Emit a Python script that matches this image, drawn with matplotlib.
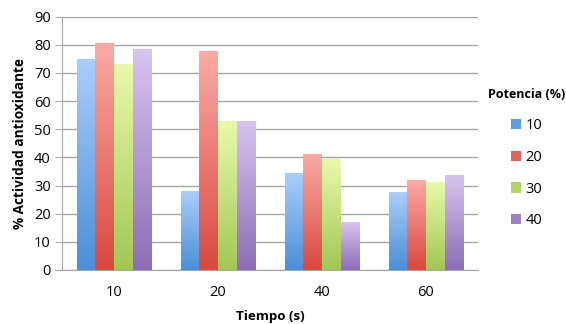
import numpy as np
import matplotlib.pyplot as plt
from matplotlib.colors import LinearSegmentedColormap
from matplotlib.patches import Patch

plt.rcParams['font.family'] = ['Open Sans', 'DejaVu Sans']

# Data
tiempos = ['10', '20', '40', '60']
potencias = ['10', '20', '30', '40']
pot_10 = [74.8, 27.8, 34.3, 27.5]
pot_20 = [80.3, 77.7, 40.9, 31.9]
pot_30 = [73.1, 52.7, 39.3, 31.0]
pot_40 = [78.2, 52.7, 16.8, 33.7]
series = [pot_10, pot_20, pot_30, pot_40]

# gradient colours (top, bottom) for each series
tops = ['#AACDFB', '#FBAAA5', '#E8FAAA', '#D7C4EF']
bottoms = ['#4A8FD6', '#D9493F', '#A3C653', '#8C6DB6']
legend_cols = ['#5C9DE0', '#E0625A', '#B2D465', '#9C80C4']

fig = plt.figure(figsize=(5.66, 3.24), dpi=100)
ax = fig.add_axes([0.1095, 0.1667, 0.735, 0.782])

x = np.arange(len(tiempos))
w = 0.18
grad = np.linspace(0, 1, 256).reshape(-1, 1)

for i, vals in enumerate(series):
    cmap = LinearSegmentedColormap.from_list('g%d' % i, [bottoms[i], tops[i]])
    for xc, v in zip(x, vals):
        x0 = xc + (i - 1.5) * w - w / 2
        ax.imshow(grad, extent=[x0, x0 + w, 0, v], origin='lower',
                  aspect='auto', cmap=cmap, zorder=3, interpolation='bilinear')

ax.set_xlim(-0.5, 3.5)
ax.set_ylim(0, 90)
ax.set_yticks(range(0, 91, 10))
ax.set_xticks(x)
ax.set_xticklabels(tiempos)
ax.grid(axis='y', color='#A6A6A6', linewidth=1, zorder=0)
ax.set_axisbelow(True)

for s in ['top', 'right']:
    ax.spines[s].set_visible(False)
ax.spines['left'].set_color('#A6A6A6')
ax.spines['bottom'].set_color('#A6A6A6')
ax.tick_params(axis='y', length=5, color='#A6A6A6', labelsize=10.5, pad=3)
ax.tick_params(axis='x', length=0, labelsize=10.5, pad=11)

ax.set_ylabel('% Actividad antioxidante', fontsize=9.8, fontweight='bold', labelpad=5)
ax.set_xlabel('Tiempo (s)', fontsize=9.6, fontweight='bold', labelpad=7)

handles = [Patch(facecolor=c, edgecolor='none') for c in legend_cols]
leg = fig.legend(handles, potencias, title='Potencia (%)', loc='upper left',
                 bbox_to_anchor=(0.849, 0.75), frameon=False, fontsize=10.5,
                 title_fontproperties={'weight': 'bold', 'size': 9.0},
                 handlelength=0.7, handleheight=0.7, handletextpad=0.3,
                 labelspacing=1.15, borderpad=0)
leg._legend_box.align = 'center'

fig.savefig('out.png', dpi=100)
